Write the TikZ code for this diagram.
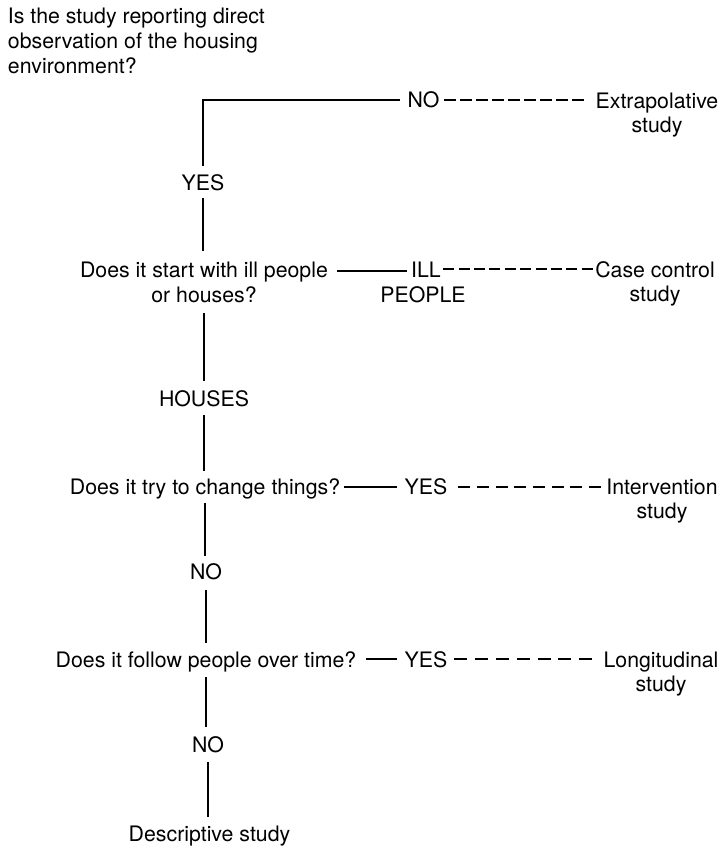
\documentclass[tikz,border=0pt]{standalone}
\usepackage{fontspec}
\setmainfont{TeX Gyre Heros}
\begin{document}
\begin{tikzpicture}[x=1pt,y=-1pt,
  lbl/.style={inner sep=0pt,outer sep=0pt,anchor=base,font=\fontsize{21.3}{25}\selectfont},
  res/.style={lbl,align=center,font=\fontsize{21.3}{24}\selectfont},
  ques/.style={lbl,align=center},
  conn/.style={line width=2pt},
  dashA/.style={conn,dash pattern=on 12pt off 4pt},
  dashB/.style={conn,dash pattern=on 11pt off 4.38pt},
  dashC/.style={conn,dash pattern=on 12pt off 6.66pt},
  dashD/.style={conn,dash pattern=on 13pt off 7.8pt}]
\useasboundingbox (0,0) rectangle (722,846);
% nodes (base anchor = baseline of the last line)
\node[lbl,anchor=base west,align=left] (q1) at (8,73) {Is the study reporting direct\\observation of the housing\\environment?};
\node[lbl] (no1) at (423.5,107) {NO};
\node[res] (ext) at (657,132) {Extrapolative\\study};
\node[lbl] (yes1) at (203,190) {YES};
\node[ques] (q2) at (204,302) {Does it start with ill people\\or houses?};
\node[lbl] (ill) at (426,277) {ILL};
\node[lbl] (people) at (423,302) {PEOPLE};
\node[res] (cc) at (655,301) {Case control\\study};
\node[lbl] (houses) at (204,406) {HOUSES};
\node[ques] (q3) at (205,494) {Does it try to change things?};
\node[lbl] (yes3) at (426,494) {YES};
\node[res] (int) at (662,518) {Intervention\\study};
\node[lbl] (no3) at (206,579) {NO};
\node[ques] (q4) at (206,667) {Does it follow people over time?};
\node[lbl] (yes4) at (426,667) {YES};
\node[res] (lon) at (661,691) {Longitudinal\\study};
\node[lbl] (no4) at (208,752) {NO};
\node[lbl] (desc) at (209.5,841) {Descriptive study};
% trunk
\draw[conn] ([yshift=24pt]yes1.base) |- ([xshift=-8pt,yshift=7pt]no1.base west);
\draw[conn,shorten >=10pt] ([yshift=-8pt]yes1.base) -- (yes1.base |- q2.north);
\draw[conn,shorten >=9pt] ([yshift=-11pt]q2.base) -- (q2.base |- houses.north);
\draw[conn,shorten >=7pt] ([yshift=-9pt]houses.base) -- (houses.base |- q3.north);
\draw[conn,shorten >=6.7pt] ([yshift=-9pt]q3.base) -- (q3.base |- no3.north);
\draw[conn,shorten >=8.7pt] ([yshift=-11pt]no3.base) -- (no3.base |- q4.north);
\draw[conn,shorten >=8.7pt] ([yshift=-10pt]q4.base) -- (q4.base |- no4.north);
\draw[conn,shorten >=8.7pt] ([yshift=-10pt]no4.base) -- (no4.base |- desc.north);
% branches
\draw[dashA] ([xshift=5pt,yshift=7pt]no1.base east) -- ([xshift=-11pt,yshift=32pt]ext.base west);
\draw[conn] ([xshift=9pt,yshift=31pt]q2.base east) -- ([xshift=-4pt,yshift=6pt]ill.base west);
\draw[dashB] ([xshift=2.5pt,yshift=8pt]ill.base east) -- ([xshift=-2.5pt,yshift=32pt]cc.base west);
\draw[conn] ([xshift=4pt,yshift=7pt]q3.base east) -- ([xshift=-8pt,yshift=7pt]yes3.base west);
\draw[dashC] ([xshift=11pt,yshift=7pt]yes3.base east) -- ([xshift=-5.5pt,yshift=31pt]int.base west);
\draw[conn] ([xshift=10pt,yshift=8pt]q4.base east) -- ([xshift=-8pt,yshift=8pt]yes4.base west);
\draw[dashD] ([xshift=7pt,yshift=8pt]yes4.base east) -- ([xshift=-11.5pt,yshift=32pt]lon.base west);
\end{tikzpicture}
\end{document}
